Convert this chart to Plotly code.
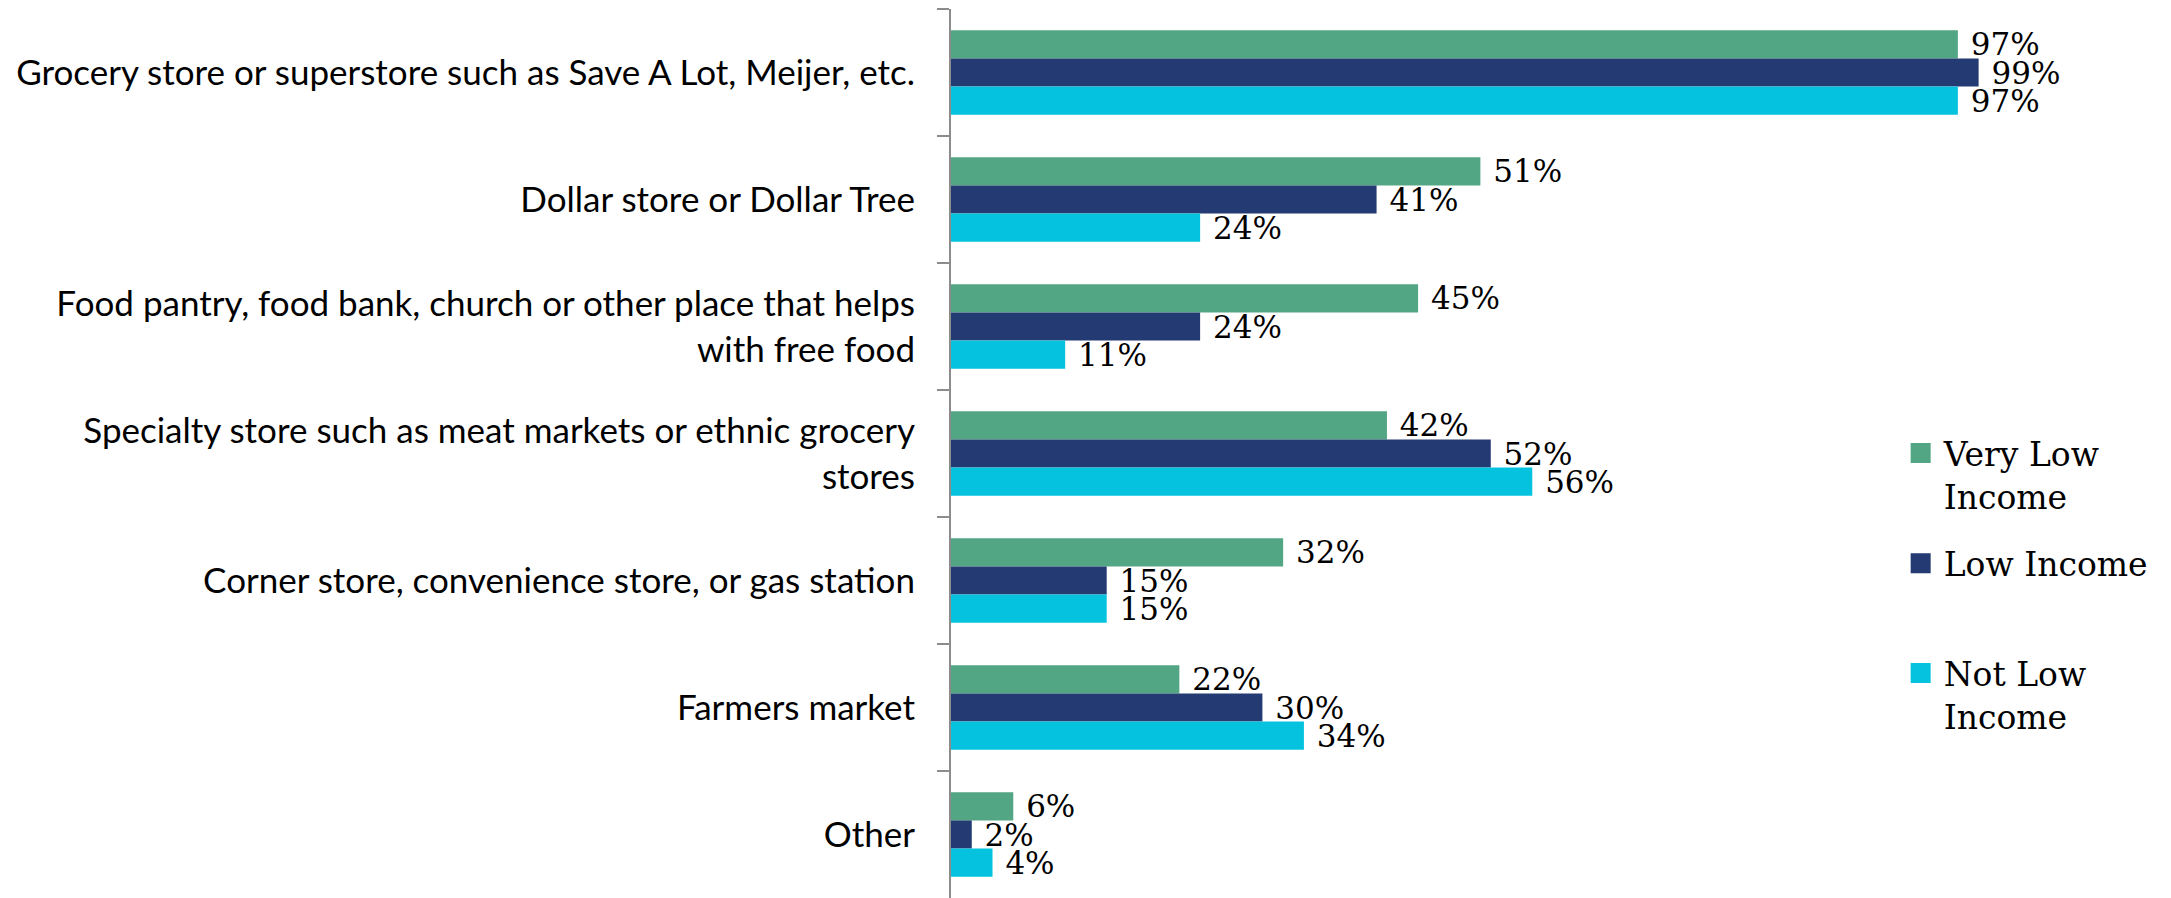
import plotly.graph_objects as go

categories = [
    "Grocery store or superstore such as Save A Lot, Meijer, etc.",
    "Dollar store or Dollar Tree",
    "Food pantry, food bank, church or other place that helps<br>with free food",
    "Specialty store such as meat markets or ethnic grocery<br>stores",
    "Corner store, convenience store, or gas station",
    "Farmers market",
    "Other",
]
series_names = ["Very Low<br>Income", "Low Income", "Not Low<br>Income"]
very_low_income = [97, 51, 45, 42, 32, 22, 6]
low_income = [99, 41, 24, 52, 15, 30, 2]
not_low_income = [97, 24, 11, 56, 15, 34, 4]

colors = ["#52A684", "#243A73", "#05C3DE"]
series_values = [very_low_income, low_income, not_low_income]
legend_ids = ["legend", "legend2", "legend3"]

fig = go.Figure()
for name, vals, col in zip(series_names, series_values, colors):
    fig.add_trace(go.Bar(
        y=categories, x=vals, orientation="h", name=name,
        marker=dict(color=col, line=dict(width=0)),
        text=["\u00a0" + f"{v}%" for v in vals],
        textposition="outside",
        textfont=dict(family="DejaVu Serif", size=31, color="#000000"),
        constraintext="none", cliponaxis=False, showlegend=False,
        hoverinfo="skip",
    ))
for name, col, lid in zip(series_names, colors, legend_ids):
    fig.add_trace(go.Scatter(
        x=[None], y=[None], mode="markers", name=name, legend=lid,
        marker=dict(symbol="square", size=16, color=col,
                    line=dict(width=4, color=col)),
        showlegend=True, hoverinfo="skip",
    ))

legend_font = dict(family="DejaVu Serif", size=33, color="#000000")
leg_common = dict(x=0.912, xanchor="left", yanchor="top", valign="top",
                  itemwidth=36, bgcolor="rgba(0,0,0,0)", font=legend_font)

fig.update_layout(
    width=2171, height=898,
    margin=dict(l=951, r=182, t=9, b=0, pad=0),
    paper_bgcolor="white", plot_bgcolor="white",
    barmode="group", bargap=0.336, bargroupgap=0,
    xaxis=dict(range=[0, 100], visible=False, fixedrange=True),
    yaxis=dict(
        autorange="reversed", type="category", fixedrange=True,
        showline=True, linecolor="#8C8C8C", linewidth=2,
        ticks="outside", tickson="boundaries", ticklen=12, tickwidth=2,
        tickcolor="#8C8C8C", ticklabelstandoff=27,
        tickfont=dict(family="Lato", size=35, color="#000000"),
        showgrid=False, zeroline=False,
    ),
    legend=dict(y=0.532, **leg_common),
    legend2=dict(y=0.408, **leg_common),
    legend3=dict(y=0.2844, **leg_common),
    showlegend=True,
)

fig.write_html("out.html", config={"displayModeBar": False},
               post_script="document.body.style.margin='0';")
